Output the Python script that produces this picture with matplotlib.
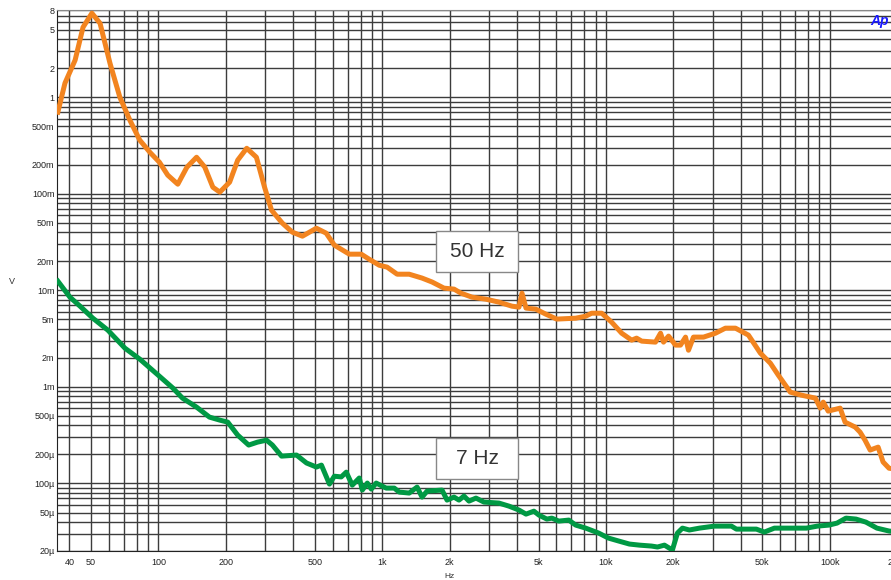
import numpy as np
import matplotlib
matplotlib.use("Agg")
import matplotlib.pyplot as plt
from matplotlib.patches import Rectangle
from matplotlib.ticker import FixedLocator, NullFormatter

plt.rcParams['font.family'] = ['Liberation Sans', 'DejaVu Sans']

# 50 Hz trace (orange)
f_50 = [35.5, 38.2, 42.4, 46.0, 50.4, 54.8, 60.7, 67.2, 74.5, 82.5, 91.4, 101, 110, 122,
        134, 148, 161, 175, 188, 208, 226, 248, 274, 298, 320, 358, 397, 440, 508, 562,
        611, 713, 806, 875, 970, 1052, 1166, 1320, 1507, 1671, 1889, 2094, 2250, 2521,
        2910, 3325, 3800, 4085, 4215, 4393, 4860, 5385, 6030, 7325, 8120, 8635, 9575,
        10600, 11760, 13030, 13710, 14450, 16650, 17540, 18090, 19050, 20470, 21540,
        22690, 23390, 24620, 27300, 30870, 34200, 37930, 43350, 49000, 54330, 59000,
        66700, 74700, 86300, 90800, 93600, 98500, 111400, 117200, 130000, 136800,
        143900, 151700, 164700, 173300, 184200, 200000]
v_50 = [0.70, 1.40, 2.42, 5.30, 7.41, 5.83, 2.25, 1.0, 0.578, 0.359, 0.270, 0.212, 0.156,
        0.1257, 0.1886, 0.239, 0.189, 0.117, 0.104, 0.132, 0.223, 0.296, 0.239, 0.117,
        0.0677, 0.0496, 0.040, 0.0364, 0.044, 0.0391, 0.0294, 0.0237, 0.0237, 0.0210,
        0.0182, 0.0174, 0.0147, 0.0147, 0.0134, 0.0122, 0.01054, 0.0103, 0.00935,
        0.0085, 0.0081, 0.00755, 0.00686, 0.0067, 0.00935, 0.00655, 0.00639, 0.00567,
        0.00504, 0.00515, 0.0054, 0.0058, 0.0058, 0.00469, 0.0036, 0.00305, 0.0032,
        0.00298, 0.00291, 0.0036, 0.00291, 0.00336, 0.00271, 0.00271, 0.00328, 0.0024,
        0.00328, 0.00328, 0.0036, 0.00406, 0.00406, 0.00344, 0.00224, 0.00176, 0.00132,
        0.000883, 0.000822, 0.000766, 0.000603, 0.000696, 0.000562, 0.000603, 0.000432,
        0.000384, 0.00034, 0.000281, 0.000222, 0.000238, 0.000167, 0.000144, 0.00014]

# 7 Hz trace (green)
f_7 = [35.5, 40.2, 44.6, 50.9, 59.4, 70.8, 82.5, 101, 116, 128, 148, 169, 188, 204, 226,
       253, 277, 304, 323, 355, 414, 459, 508, 535, 581, 611, 656, 691, 735, 790, 815,
       858, 894, 940, 1042, 1132, 1191, 1320, 1432, 1507, 1587, 1851, 1949, 2094, 2204,
       2320, 2443, 2625, 2850, 3325, 3686, 4085, 4393, 4765, 5017, 5445, 5730, 6155,
       6823, 7325, 8120, 9270, 10270, 11380, 12740, 14120, 15980, 17000, 18260, 19820,
       20880, 21980, 23600, 26180, 28430, 30540, 33880, 36390, 38300, 47030, 51050,
       56620, 66070, 78700, 88100, 99400, 107900, 118300, 131200, 145300, 162700,
       184200, 200000]
v_7 = [0.01245, 0.0085, 0.00686, 0.00515, 0.00387, 0.00252, 0.00194, 0.00129, 0.000973,
       0.000766, 0.000618, 0.000487, 0.000453, 0.000432, 0.000317, 0.00025, 0.000268,
       0.000281, 0.00025, 0.000192, 0.000197, 0.000163, 0.000148, 0.000155, 9.86e-5,
       0.000119, 0.000117, 0.000131, 9.62e-5, 0.000114, 8.55e-5, 0.000101, 8.75e-5,
       0.000101, 8.96e-5, 8.96e-5, 8.15e-5, 7.96e-5, 9.18e-5, 7.23e-5, 8.34e-5, 8.55e-5,
       6.73e-5, 7.23e-5, 6.73e-5, 7.41e-5, 6.57e-5, 7.06e-5, 6.42e-5, 6.27e-5, 5.83e-5,
       5.31e-5, 4.82e-5, 5.17e-5, 4.71e-5, 4.28e-5, 4.38e-5, 4.08e-5, 4.18e-5, 3.71e-5,
       3.45e-5, 3.07e-5, 2.72e-5, 2.54e-5, 2.36e-5, 2.30e-5, 2.25e-5, 2.20e-5, 2.30e-5,
       2.05e-5, 3.07e-5, 3.45e-5, 3.30e-5, 3.45e-5, 3.54e-5, 3.62e-5, 3.62e-5, 3.62e-5,
       3.37e-5, 3.37e-5, 3.14e-5, 3.45e-5, 3.45e-5, 3.45e-5, 3.62e-5, 3.71e-5, 3.89e-5,
       4.38e-5, 4.28e-5, 3.98e-5, 3.45e-5, 3.22e-5, 3.15e-5]

x_ticks = [40, 50, 100, 200, 500, 1e3, 2e3, 5e3, 1e4, 2e4, 5e4, 1e5, 2e5]
x_labels = ['40', '50', '100', '200', '500', '1k', '2k', '5k', '10k', '20k', '50k', '100k', '200k']
y_ticks = [8, 5, 2, 1, 0.5, 0.2, 0.1, 0.05, 0.02, 0.01, 5e-3, 2e-3, 1e-3,
           5e-4, 2e-4, 1e-4, 5e-5, 2e-5]
y_labels = ['8', '5', '2', '1', '500m', '200m', '100m', '50m', '20m', '10m', '5m', '2m', '1m',
            '500µ', '200µ', '100µ', '50µ', '20µ']

fig = plt.figure(figsize=(8.91, 5.8), dpi=100)
ax = fig.add_axes([57.3 / 891, 29 / 580, 839.7 / 891, 541 / 580])
ax.set_xscale('log')
ax.set_yscale('log')
ax.set_xlim(35.3, 2e5)
ax.set_ylim(2e-5, 8)

# grid at every 1..9 of each decade
grid_x = [m * 10.0 ** e for e in range(1, 6) for m in range(1, 10)]
grid_y = [m * 10.0 ** e for e in range(-5, 1) for m in range(1, 10)]
ax.xaxis.set_minor_locator(FixedLocator(grid_x))
ax.yaxis.set_minor_locator(FixedLocator(grid_y))
ax.xaxis.set_minor_formatter(NullFormatter())
ax.yaxis.set_minor_formatter(NullFormatter())
ax.set_xticks(x_ticks, x_labels)
ax.set_yticks(y_ticks, y_labels)
ax.grid(True, which='both', color='#3c3c3c', lw=1.0)
ax.set_axisbelow(True)
ax.tick_params(which='both', length=0, labelsize=6.5, colors='#222222')
ax.tick_params(axis='y', pad=2)
ax.tick_params(axis='x', pad=5)

for s in ['right']:
    ax.spines[s].set_visible(False)
ax.spines['top'].set_color('#888888')
ax.spines['left'].set_color('#222222')
ax.spines['bottom'].set_color('#222222')

ax.plot(f_50, v_50, color='#F2841F', lw=3.6, solid_joinstyle='round', zorder=3)
ax.plot(f_7, v_7, color='#009944', lw=3.6, solid_joinstyle='round', zorder=3)

# label boxes
bw, bh = 82 / 839.7, 41 / 541
for cx, cy, txt in [(0.4998, 0.5536, '50 Hz'), (0.4998, 0.171, '7 Hz')]:
    ax.add_patch(Rectangle((cx - bw / 2, cy - bh / 2), bw, bh, transform=ax.transAxes,
                           facecolor='white', edgecolor='#888888', lw=1.0, zorder=4))
    ax.text(cx, cy, txt, transform=ax.transAxes, ha='center', va='center',
            fontsize=15, color='#333333', zorder=5)

fig.text(449 / 891, 1 - 576 / 580, 'Hz', ha='center', va='center', fontsize=6, color='#333333')
fig.text(12 / 891, 1 - 281 / 580, 'V', ha='center', va='center', fontsize=6.5, color='#333333')
fig.text(880 / 891, 1 - 21 / 580, 'Ap', ha='center', va='center', fontsize=10,
         color='#1a1aff', style='italic', fontweight='bold')

fig.savefig('out.png', dpi=100)
